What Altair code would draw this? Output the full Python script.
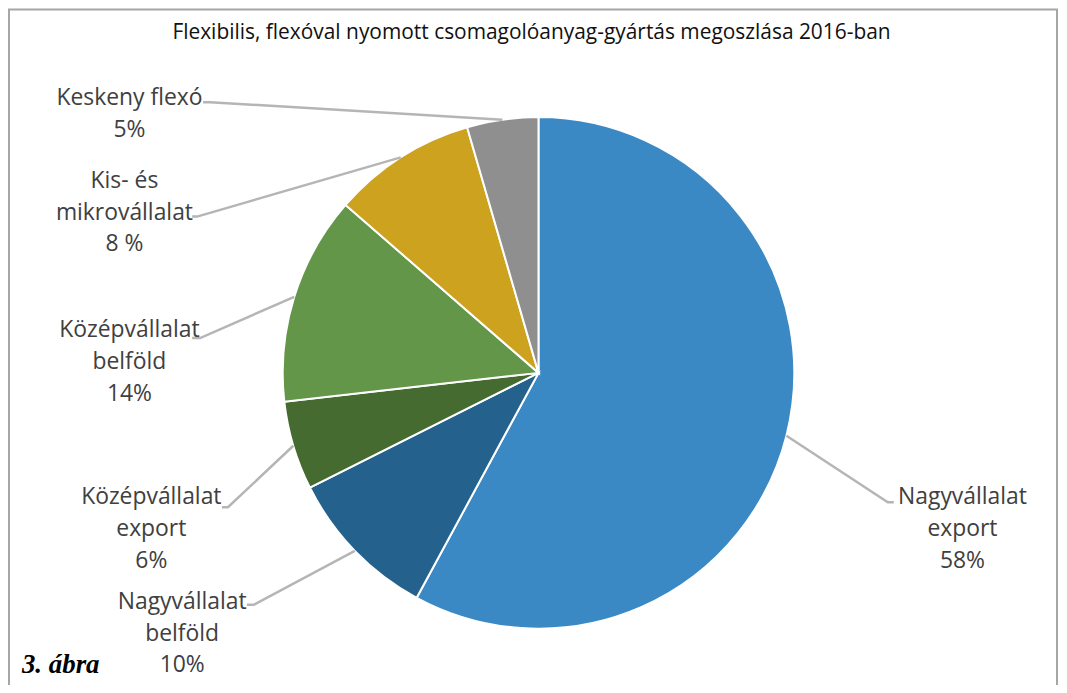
import math
import altair as alt
import pandas as pd

# ---------------- data ----------------
categories = [
    "Nagyvállalat export",
    "Nagyvállalat belföld",
    "Középvállalat export",
    "Középvállalat belföld",
    "Kis- és mikrovállalat",
    "Keskeny flexó",
]
values = [57.9, 9.7, 5.6, 13.2, 9.1, 4.5]
label_texts = [
    "Nagyvállalat\nexport\n58%",
    "Nagyvállalat\nbelföld\n10%",
    "Középvállalat\nexport\n6%",
    "Középvállalat\nbelföld\n14%",
    "Kis- és\nmikrovállalat\n8 %",
    "Keskeny flexó\n5%",
]
colors = ["#3a88c4", "#24628d", "#466b31", "#64964a", "#cca21e", "#8f8f8f"]
title_text = "Flexibilis, flexóval nyomott csomagolóanyag-gyártás megoszlása 2016-ban"
note_text = "3. ábra"

# ---------------- layout ----------------
W, H = 1056, 677
CX, CY, R = 533, 365, 257
# (center x, first-line y) of each label block
label_pos = [(959, 490), (175, 595), (144, 490), (122, 322), (117, 172), (122, 89)]
# (text-side x, elbow x, y) of leader lines
leader_pos = [(890, 884, 495), (240, 247, 598), (215, 221, 500),
              (185, 193, 330), (185, 190, 208), (196, 203, 93)]

# ---------------- derived tables ----------------
total = sum(values)
pie_df = pd.DataFrame({"cat": categories, "value": values, "idx": range(len(values))})

rows = []
cum = 0.0
for i, v in enumerate(values):
    mid = (cum + v / 2) / total * 2 * math.pi
    cum += v
    ex = CX + R * math.sin(mid)
    ey = CY - R * math.cos(mid)
    tx, bx, ly = leader_pos[i]
    rows += [
        {"cat": categories[i], "pt": 0, "x": tx, "y": ly},
        {"cat": categories[i], "pt": 1, "x": bx, "y": ly},
        {"cat": categories[i], "pt": 2, "x": ex, "y": ey},
    ]
lead_df = pd.DataFrame(rows)

lab_df = pd.DataFrame({
    "cat": categories,
    "label": label_texts,
    "x": [p[0] for p in label_pos],
    "y": [p[1] for p in label_pos],
})

pie = alt.Chart(pie_df).mark_arc(outerRadius=R, stroke="white", strokeWidth=2).encode(
    theta=alt.Theta("value:Q", stack=True),
    color=alt.Color("cat:N", scale=alt.Scale(domain=categories, range=colors), legend=None),
    order=alt.Order("idx:Q"),
    x=alt.value(CX),
    y=alt.value(CY),
)

leaders = alt.Chart(lead_df).mark_line(color="#b5b5b5", strokeWidth=2.5).encode(
    x=alt.X("x:Q", scale=None),
    y=alt.Y("y:Q", scale=None),
    detail="cat:N",
    order="pt:Q",
)

labels = alt.Chart(lab_df).mark_text(
    align="center", baseline="middle", lineBreak="\n", lineHeight=32,
    font="Open Sans", fontSize=23, color="#404040",
).encode(
    x=alt.X("x:Q", scale=None),
    y=alt.Y("y:Q", scale=None),
    text="label:N",
)

title = alt.Chart(pd.DataFrame({"t": [title_text]})).mark_text(
    align="center", baseline="alphabetic", font="Open Sans", fontSize=21, color="#111111",
).encode(x=alt.value(526), y=alt.value(30), text="t:N")

note = alt.Chart(pd.DataFrame({"t": [note_text]})).mark_text(
    align="left", baseline="alphabetic", font="Liberation Serif", fontSize=27,
    fontWeight="bold", fontStyle="italic", color="#000000",
).encode(x=alt.value(14), y=alt.value(667), text="t:N")

frame = alt.Chart(pd.DataFrame({"a": [0]})).mark_rect(
    fill=None, stroke="#a6a6a6", strokeWidth=2,
).encode(x=alt.value(1), x2=alt.value(1054), y=alt.value(0), y2=alt.value(720))

chart = alt.layer(frame, pie, leaders, labels, title, note).properties(
    width=W, height=H, padding=0, autosize=alt.AutoSizeParams(type="none"),
).configure_view(stroke=None)

chart.save("out.html", embed_options={"renderer": "svg", "actions": False})
